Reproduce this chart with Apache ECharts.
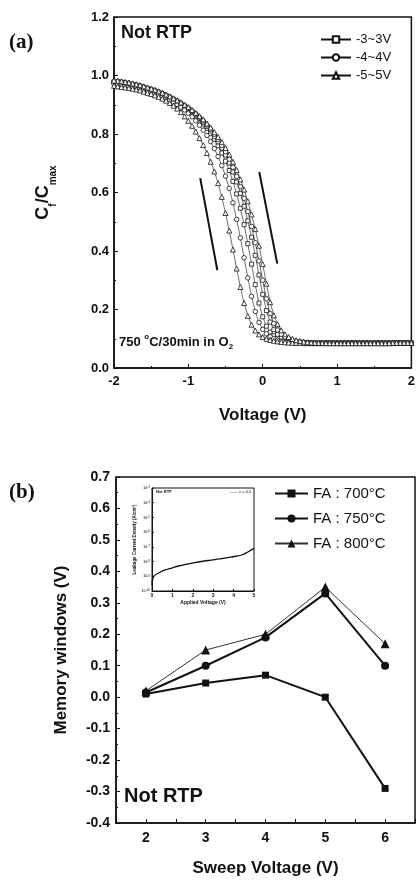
<!DOCTYPE html>
<html>
<head>
<meta charset="utf-8">
<script src="https://cdn.jsdelivr.net/npm/echarts@6/dist/echarts.min.js"></script>
<style>
html,body{margin:0;padding:0;background:#fff;}
#c{width:418px;height:882px;}
</style>
</head>
<body>
<div id="c"></div>
<script>
// ---------- Panel (a): C-V hysteresis ----------
var voltage = [-2,-1.95,-1.9,-1.85,-1.8,-1.75,-1.7,-1.65,-1.6,-1.55,-1.5,-1.45,-1.4,-1.35,-1.3,-1.25,-1.2,-1.15,-1.1,-1.05,-1,-0.95,-0.9,-0.85,-0.8,-0.75,-0.7,-0.65,-0.6,-0.55,-0.5,-0.45,-0.4,-0.35,-0.3,-0.25,-0.2,-0.15,-0.1,-0.05,0,0.05,0.1,0.15,0.2,0.25,0.3,0.35,0.4,0.45,0.5,0.55,0.6,0.65,0.7,0.75,0.8,0.85,0.9,0.95,1,1.05,1.1,1.15,1.2,1.25,1.3,1.35,1.4,1.45,1.5,1.55,1.6,1.65,1.7,1.75,1.8,1.85,1.9,1.95,2];

// -3~3V (squares) : left and right branches
var sq3Left = [0.976,0.975,0.973,0.971,0.969,0.966,0.963,0.960,0.957,0.953,
0.949,0.945,0.940,0.935,0.929,0.923,0.916,0.909,0.901,0.892,
0.883,0.872,0.861,0.848,0.834,0.819,0.801,0.782,0.760,0.735,
0.707,0.675,0.638,0.595,0.546,0.490,0.425,0.355,0.285,0.222,
0.175,
0.143,0.123,0.110,0.102,0.096,0.092,0.090,0.088,0.087,0.086,
0.086,0.085,0.085,0.085,0.085,0.085,0.085,0.085,0.085,0.085,
0.085,0.085,0.085,0.085,0.085,0.085,0.085,0.085,0.085,0.085,
0.085,0.085,0.085,0.085,0.085,0.086,0.086,0.086,0.086,0.086];
var sq3Right = [0.979,0.978,0.976,0.974,0.972,0.969,0.966,0.963,0.959,0.955,
0.951,0.947,0.942,0.937,0.931,0.925,0.918,0.911,0.903,0.895,
0.886,0.876,0.865,0.853,0.840,0.826,0.810,0.792,0.773,0.752,
0.728,0.701,0.670,0.636,0.597,0.553,0.503,0.447,0.385,0.318,
0.252,
0.196,0.157,0.131,0.115,0.105,0.099,0.094,0.091,0.089,0.088,
0.087,0.086,0.086,0.085,0.085,0.085,0.085,0.085,0.085,0.085,
0.085,0.085,0.085,0.085,0.085,0.085,0.085,0.085,0.085,0.085,
0.085,0.085,0.085,0.085,0.085,0.086,0.086,0.086,0.086,0.086];
// -4~4V (circles)
var ci4Left = [0.972,0.971,0.969,0.967,0.965,0.962,0.959,0.956,0.952,0.948,
0.944,0.939,0.934,0.929,0.923,0.916,0.909,0.901,0.892,0.882,
0.871,0.859,0.845,0.830,0.813,0.795,0.774,0.750,0.723,0.692,
0.656,0.614,0.565,0.508,0.445,0.377,0.308,0.245,0.193,0.156,
0.132,
0.117,0.107,0.100,0.095,0.092,0.090,0.088,0.087,0.086,0.086,
0.085,0.085,0.085,0.085,0.085,0.085,0.085,0.085,0.085,0.085,
0.085,0.085,0.085,0.085,0.085,0.085,0.085,0.085,0.085,0.085,
0.085,0.085,0.085,0.085,0.085,0.086,0.086,0.086,0.086,0.086];
var ci4Right = [0.981,0.980,0.978,0.976,0.974,0.971,0.968,0.965,0.961,0.957,
0.953,0.949,0.944,0.939,0.933,0.927,0.920,0.913,0.905,0.897,
0.889,0.879,0.869,0.857,0.845,0.831,0.816,0.799,0.781,0.761,
0.739,0.714,0.686,0.655,0.620,0.580,0.535,0.484,0.428,0.366,
0.300,
0.237,0.186,0.152,0.130,0.115,0.106,0.100,0.095,0.092,0.090,
0.088,0.087,0.086,0.086,0.085,0.085,0.085,0.085,0.085,0.085,
0.085,0.085,0.085,0.085,0.085,0.085,0.085,0.085,0.085,0.085,
0.085,0.085,0.085,0.085,0.085,0.086,0.086,0.086,0.086,0.086];
// -5~5V (triangles)
var tr5Left = [0.965,0.963,0.961,0.959,0.957,0.955,0.952,0.949,0.945,0.941,
0.937,0.932,0.927,0.921,0.914,0.906,0.897,0.887,0.875,0.860,
0.845,0.828,0.808,0.786,0.762,0.735,0.705,0.672,0.632,0.585,
0.530,0.470,0.405,0.340,0.277,0.222,0.178,0.148,0.128,0.115,
0.106,
0.100,0.096,0.093,0.091,0.089,0.088,0.087,0.086,0.086,0.086,
0.085,0.085,0.085,0.085,0.085,0.085,0.085,0.085,0.085,0.085,
0.085,0.085,0.085,0.085,0.085,0.085,0.085,0.085,0.085,0.085,
0.085,0.085,0.085,0.085,0.085,0.086,0.086,0.086,0.086,0.086];
var tr5Right = [0.983,0.982,0.980,0.978,0.976,0.973,0.970,0.967,0.963,0.959,
0.955,0.951,0.946,0.941,0.935,0.929,0.922,0.915,0.908,0.900,
0.892,0.882,0.872,0.861,0.850,0.836,0.822,0.806,0.790,0.772,
0.752,0.730,0.705,0.677,0.645,0.610,0.570,0.525,0.475,0.418,
0.355,
0.288,0.225,0.180,0.150,0.129,0.115,0.106,0.100,0.095,0.092,
0.090,0.088,0.087,0.086,0.086,0.086,0.085,0.085,0.085,0.085,
0.085,0.085,0.085,0.085,0.085,0.085,0.085,0.085,0.085,0.085,
0.085,0.085,0.085,0.085,0.086,0.086,0.086,0.086,0.086,0.086];

var sweepNamesA = ['-3~3V', '-4~4V', '-5~5V'];
// sweep-direction guide lines (end points)
var guideLeftV = [-0.84, -0.61], guideLeftC = [0.649, 0.334];
var guideRightV = [-0.046, 0.196], guideRightC = [0.67, 0.357];

// ---------- Panel (b): memory windows ----------
var sweepVoltage = [2, 3, 4, 5, 6];
var fa700 = [0.01, 0.045, 0.07, 0.0, -0.29];
var fa750 = [0.015, 0.10, 0.19, 0.33, 0.10];
var fa800 = [0.02, 0.15, 0.20, 0.35, 0.17];
var faNames = ['FA : 700°C', 'FA : 750°C', 'FA : 800°C'];

// inset: leakage current density
var insetV = [0, 0.05, 0.15, 0.3, 0.65, 1.0, 1.3, 1.7, 2.1, 2.5, 2.9, 3.3, 3.7, 4.1, 4.4, 4.7, 5.0];
var insetJ = [2.5e-10, 8e-10, 1.2e-9, 1.6e-9, 2.7e-9, 3.8e-9, 5.0e-9, 6.6e-9, 8.5e-9, 1.05e-8, 1.26e-8, 1.5e-8, 1.85e-8, 2.3e-8, 2.8e-8, 4.5e-8, 7.9e-8];

function pairs(xs, ys) { return xs.map(function (x, i) { return [x, ys[i]]; }); }
function loop(left, right) { return pairs(voltage, left).concat(pairs(voltage, right).reverse()); }

var FONT = 'Liberation Sans, Arial, sans-serif';
var BLACK = '#111';

var chart = echarts.init(document.getElementById('c'), null, {renderer: 'canvas'});

var axisLine = {show: true, onZero: false, lineStyle: {color: BLACK, width: 1.5}};
var lab = function (sz) { return {color: BLACK, fontFamily: FONT, fontWeight: 'bold', fontSize: sz}; };

var cvStyle = function (name, sym, size, data) {
  return {
    name: name, type: 'line', xAxisIndex: 0, yAxisIndex: 0, data: data,
    symbol: sym, symbolSize: size, showAllSymbol: true, smooth: false,
    lineStyle: {color: BLACK, width: 0.6},
    itemStyle: {color: '#fff', borderColor: BLACK, borderWidth: 0.8},
    z: 3
  };
};

var option = {
  animation: false,
  backgroundColor: '#fff',
  grid: [
    {left: 114, top: 17, width: 302, height: 351, show: true, borderColor: BLACK, borderWidth: 1.5, backgroundColor: 'transparent'},
    {left: 116, top: 477, width: 300, height: 346, show: true, borderColor: BLACK, borderWidth: 1.5, backgroundColor: 'transparent'},
    {left: 152, top: 488, width: 102, height: 103, show: true, borderColor: BLACK, borderWidth: 1, backgroundColor: '#fff'}
  ],
  xAxis: [
    {gridIndex: 0, type: 'value', min: -2, max: 2, interval: 1,
     axisLine: axisLine, axisTick: {inside: true, length: 4, lineStyle: {color: BLACK}},
     minorTick: {show: true, splitNumber: 2, length: 2, lineStyle: {color: BLACK}},
     splitLine: {show: false},
     axisLabel: Object.assign(lab(13), {margin: 7}),
     name: 'Voltage (V)', nameLocation: 'middle', nameGap: 39,
     nameTextStyle: lab(17)},
    {gridIndex: 1, type: 'value', min: 1.5, max: 6.5, interval: 0.5,
     axisLine: axisLine, axisTick: {inside: true, length: 4, lineStyle: {color: BLACK}},
     splitLine: {show: false},
     axisLabel: Object.assign(lab(14), {margin: 8, formatter: function (v) { return Math.abs(v - Math.round(v)) < 1e-6 ? String(Math.round(v)) : ''; }}),
     name: 'Sweep Voltage (V)', nameLocation: 'middle', nameGap: 37,
     nameTextStyle: lab(17)},
    {gridIndex: 2, type: 'value', min: 0, max: 5, interval: 1,
     axisLine: {show: true, lineStyle: {color: BLACK, width: 1}},
     axisTick: {inside: true, length: 2, lineStyle: {color: BLACK}},
     splitLine: {show: false},
     axisLabel: {color: BLACK, fontFamily: FONT, fontWeight: 'bold', fontSize: 5, margin: 2},
     name: 'Applied Voltage (V)', nameLocation: 'middle', nameGap: 9,
     nameTextStyle: {color: BLACK, fontFamily: FONT, fontWeight: 'bold', fontSize: 5}}
  ],
  yAxis: [
    {gridIndex: 0, type: 'value', min: 0, max: 1.2, interval: 0.2,
     axisLine: axisLine, axisTick: {inside: true, length: 4, lineStyle: {color: BLACK}},
     minorTick: {show: true, splitNumber: 2, length: 2, lineStyle: {color: BLACK}},
     splitLine: {show: false},
     axisLabel: Object.assign(lab(13), {margin: 5, formatter: function (v) { return v.toFixed(1); }}),
     name: '{m|C}{s|f}{m|/C}{s|max}', nameLocation: 'middle', nameGap: 62,
     nameTextStyle: {color: BLACK, fontFamily: FONT, fontWeight: 'bold', fontSize: 17,
       rich: {m: {fontSize: 18, fontWeight: 'bold', fontFamily: FONT, color: BLACK, verticalAlign: 'bottom', lineHeight: 20},
              s: {fontSize: 10, fontWeight: 'bold', fontFamily: FONT, color: BLACK, verticalAlign: 'bottom', lineHeight: 12, padding: [0, 0, -6, 0]}}}},
    {gridIndex: 1, type: 'value', min: -0.4, max: 0.7, interval: 0.1,
     axisLine: axisLine, axisTick: {inside: true, length: 4, lineStyle: {color: BLACK}},
     minorTick: {show: true, splitNumber: 2, length: 2, lineStyle: {color: BLACK}},
     splitLine: {show: false},
     axisLabel: Object.assign(lab(14), {margin: 6, formatter: function (v) { var t = v.toFixed(1); return t === '-0.0' ? '0.0' : t; }}),
     name: 'Memory windows (V)', nameLocation: 'middle', nameGap: 46,
     nameTextStyle: lab(17)},
    {gridIndex: 2, type: 'log', min: 1e-10, max: 1e-3, logBase: 10,
     axisLine: {show: true, lineStyle: {color: BLACK, width: 1}},
     axisTick: {inside: true, length: 2, lineStyle: {color: BLACK}},
     splitLine: {show: false},
     axisLabel: {color: BLACK, fontFamily: FONT, fontSize: 4, margin: 2,
       formatter: function (v) { return '10{e|' + Math.round(Math.log10(v)) + '}'; },
       rich: {e: {fontSize: 3, verticalAlign: 'top', color: BLACK}}},
     name: 'Leakage Current Density (A/cm\u00b2)', nameLocation: 'middle', nameGap: 13,
     nameTextStyle: {color: BLACK, fontFamily: FONT, fontWeight: 'bold', fontSize: 4.5}}
  ],
  legend: [
    {data: sweepNamesA, orient: 'vertical', left: 315, top: 28, itemGap: 5,
     itemWidth: 30, itemHeight: 8, textStyle: {color: BLACK, fontFamily: FONT, fontSize: 13}},
    {data: faNames, orient: 'vertical', left: 269, top: 481, itemGap: 10,
     itemWidth: 33, itemHeight: 10, textStyle: {color: BLACK, fontFamily: FONT, fontSize: 15}}
  ],
  series: [
    cvStyle(sweepNamesA[0], 'rect', 4, loop(sq3Left, sq3Right)),
    cvStyle(sweepNamesA[1], 'circle', 4.5, loop(ci4Left, ci4Right)),
    cvStyle(sweepNamesA[2], 'triangle', 5, loop(tr5Left, tr5Right)),
    {type: 'line', xAxisIndex: 0, yAxisIndex: 0, data: pairs(guideLeftV, guideLeftC), symbol: 'none',
     lineStyle: {color: BLACK, width: 2}, silent: true},
    {type: 'line', xAxisIndex: 0, yAxisIndex: 0, data: pairs(guideRightV, guideRightC), symbol: 'none',
     lineStyle: {color: BLACK, width: 2}, silent: true},
    {name: faNames[0], type: 'line', xAxisIndex: 1, yAxisIndex: 1, data: pairs(sweepVoltage, fa700),
     symbol: 'rect', symbolSize: 7, lineStyle: {color: BLACK, width: 2}, itemStyle: {color: BLACK}},
    {name: faNames[1], type: 'line', xAxisIndex: 1, yAxisIndex: 1, data: pairs(sweepVoltage, fa750),
     symbol: 'circle', symbolSize: 8, lineStyle: {color: BLACK, width: 2}, itemStyle: {color: BLACK}},
    {name: faNames[2], type: 'line', xAxisIndex: 1, yAxisIndex: 1, data: pairs(sweepVoltage, fa800),
     symbol: 'triangle', symbolSize: 9, lineStyle: {color: '#333', width: 1}, itemStyle: {color: BLACK}},
    {type: 'line', xAxisIndex: 2, yAxisIndex: 2, data: pairs(insetV, insetJ), symbol: 'none', smooth: true,
     lineStyle: {color: BLACK, width: 1.3}, silent: true}
  ],
  graphic: [
    {type: 'text', left: 9, top: 32, style: {text: '(a)', fill: BLACK, font: 'bold 21px "Liberation Serif", "DejaVu Serif", serif'}},
    {type: 'text', left: 9, top: 482, style: {text: '(b)', fill: BLACK, font: 'bold 21px "Liberation Serif", "DejaVu Serif", serif'}},
    {type: 'text', left: 121, top: 24, style: {text: 'Not RTP', fill: BLACK, font: 'bold 18px ' + FONT}},
    {type: 'text', left: 124, top: 786, style: {text: 'Not RTP', fill: BLACK, font: 'bold 20px ' + FONT}},
    {type: 'text', left: 119, top: 333, style: {
      text: '{n|750 }{p|o}{n|C/30min in O}{b|2}', fill: BLACK,
      rich: {n: {fontSize: 13, fontWeight: 'bold', fontFamily: FONT, fill: BLACK, verticalAlign: 'middle', lineHeight: 18},
             p: {fontSize: 8, fontWeight: 'bold', fontFamily: FONT, fill: BLACK, verticalAlign: 'top', lineHeight: 18},
             b: {fontSize: 8, fontWeight: 'bold', fontFamily: FONT, fill: BLACK, verticalAlign: 'bottom', lineHeight: 18}}}},
    {type: 'text', left: 156, top: 490, z: 10, style: {text: 'Not RTP', fill: BLACK, font: 'bold 4px ' + FONT}},
    {type: 'text', left: 230, top: 490, z: 10, style: {text: '\u2014\u2014 x = 0.5', fill: BLACK, font: '4px ' + FONT}}
  ]
};
chart.setOption(option);
</script>
</body>
</html>
